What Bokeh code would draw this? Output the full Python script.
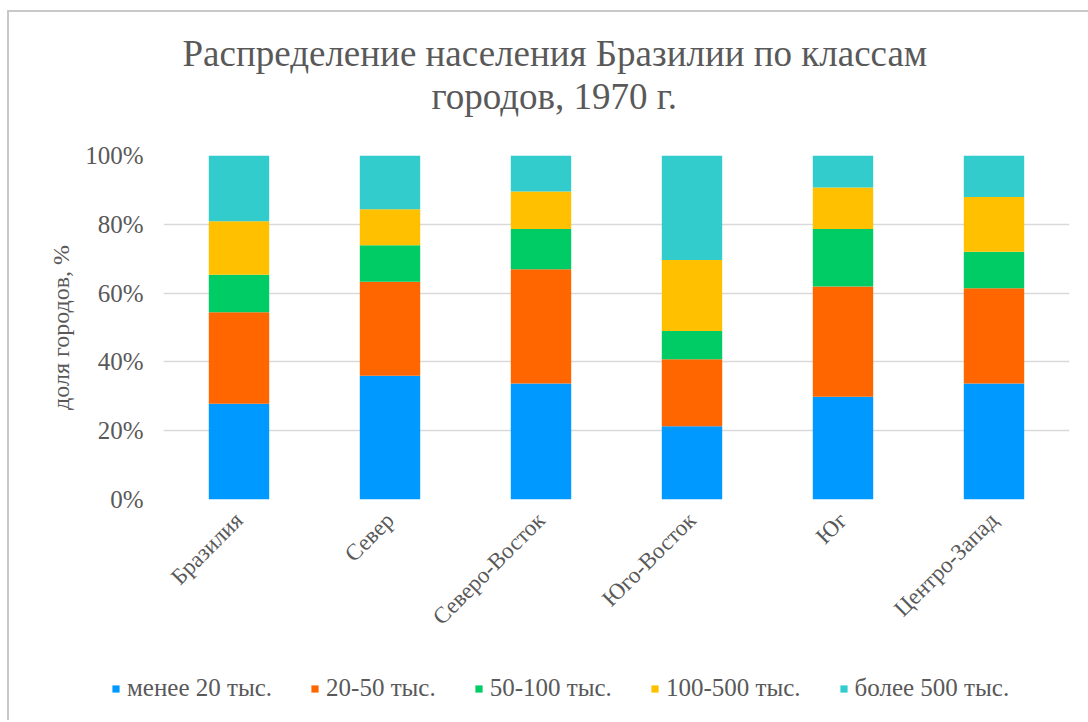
import math
from bokeh.plotting import figure
from bokeh.layouts import column
from bokeh.models import FactorRange, Legend, LegendItem, PrintfTickFormatter, FixedTicker, Title
from bokeh.embed import file_html
from bokeh.resources import INLINE

regions = ["Бразилия", "Север", "Северо-Восток", "Юго-Восток", "Юг", "Центро-Запад"]
classes = ["менее 20 тыс.", "20-50 тыс.", "50-100 тыс.", "100-500 тыс.", "более 500 тыс."]
s_lt20 = [27.8, 36.0, 33.7, 21.3, 29.9, 33.7]
s_20_50 = [26.6, 27.3, 33.2, 19.5, 32.0, 27.7]
s_50_100 = [10.9, 10.6, 11.7, 8.2, 16.7, 10.6]
s_100_500 = [15.6, 10.5, 10.9, 20.6, 12.1, 15.9]
s_gt500 = [19.1, 15.6, 10.5, 30.4, 9.3, 12.1]
y_ticks = [0, 20, 40, 60, 80, 100]
title_line1 = "Распределение населения Бразилии по классам"
title_line2 = "городов, 1970 г."
y_label = "доля городов, %"
colors = ["#0099FF", "#FF6600", "#00CC66", "#FFC000", "#33CCCC"]

FONT = "Liberation Serif"
GRAY = "#595959"

keys = ["a", "b", "c", "d", "e"]
data = {"region": regions, "a": s_lt20, "b": s_20_50, "c": s_50_100, "d": s_100_500, "e": s_gt500}

p = figure(x_range=FactorRange(*regions), y_range=(0, 100), title=None,
           frame_width=906, frame_height=344,
           min_border_left=154, min_border_right=19, min_border_top=143, min_border_bottom=171,
           output_backend="svg", toolbar_location=None)

renderers = p.vbar_stack(keys, x="region", width=0.4, color=colors, line_color=None, source=data)

p.outline_line_color = None
p.background_fill_color = "white"
p.border_fill_color = "white"

p.xgrid.grid_line_color = None
p.ygrid.grid_line_color = "#D9D9D9"
p.ygrid.grid_line_width = 1.5
p.ygrid.ticker = FixedTicker(ticks=y_ticks)

p.yaxis.ticker = FixedTicker(ticks=y_ticks)
p.yaxis.formatter = PrintfTickFormatter(format="%d%%")
p.yaxis.axis_line_color = None
p.yaxis.major_tick_line_color = None
p.yaxis.minor_tick_line_color = None
p.yaxis.major_tick_out = 0
p.yaxis.major_label_standoff = 20
p.yaxis.major_label_text_font = FONT
p.yaxis.major_label_text_font_size = "25px"
p.yaxis.major_label_text_color = GRAY
p.yaxis.axis_label = y_label
p.yaxis.axis_label_text_font = FONT
p.yaxis.axis_label_text_font_size = "24px"
p.yaxis.axis_label_text_font_style = "normal"
p.yaxis.axis_label_text_color = GRAY
p.yaxis.axis_label_standoff = 8

p.xaxis.axis_line_color = None
p.xaxis.major_tick_line_color = None
p.xaxis.major_tick_out = 0
p.xaxis.major_label_orientation = math.pi / 4
p.xaxis.major_label_standoff = 17
p.xaxis.major_label_text_font = FONT
p.xaxis.major_label_text_font_size = "23px"
p.xaxis.major_label_text_color = GRAY

# title: spacer + two lines stacked above the frame (first added is nearest the frame)
spacer = Title(text=" ", text_font_size="1px", standoff=36)
t2 = Title(text=title_line2, align="left", offset=268, standoff=0,
           text_font=FONT, text_font_size="37px", text_font_style="normal", text_color=GRAY)
t1 = Title(text=title_line1, align="left", offset=19, standoff=0,
           text_font=FONT, text_font_size="37px", text_font_style="normal", text_color=GRAY)
p.add_layout(spacer, "above")
p.add_layout(t2, "above")
p.add_layout(t1, "above")

# legend strip below the chart (hidden copies of the bar renderers supply the swatches)
pl = figure(width=1079, height=50, x_range=FactorRange(*regions), y_range=(0, 100),
            x_axis_location=None, y_axis_location=None, min_border=0,
            output_backend="svg", toolbar_location=None)
pl.outline_line_color = None
pl.grid.grid_line_color = None
leg_renderers = pl.vbar_stack(keys, x="region", width=0.4, color=colors, line_color=None,
                              source=data, visible=False)

leg_x = 102
try:
    p.frame_align = False
    pl.frame_align = False
except AttributeError:
    leg_x = 0

legend = Legend(items=[LegendItem(label=c, renderers=[r]) for c, r in zip(classes, leg_renderers)],
                orientation="horizontal", location=(leg_x, 18),
                glyph_width=9, glyph_height=9, label_standoff=7, spacing=38,
                padding=0, margin=0, border_line_color=None, background_fill_alpha=0,
                label_text_font=FONT, label_text_font_size="25px", label_text_color=GRAY)
try:
    legend.inactive_fill_alpha = 0
except AttributeError:
    pass
pl.add_layout(legend, "center")

layout = column(p, pl, spacing=0)
layout.styles = {"border-left": "2px solid #c8c8c8", "border-top": "2px solid #c8c8c8",
                 "margin-left": "7px", "margin-top": "10px"}

open("out.html", "w").write(file_html(layout, INLINE))
